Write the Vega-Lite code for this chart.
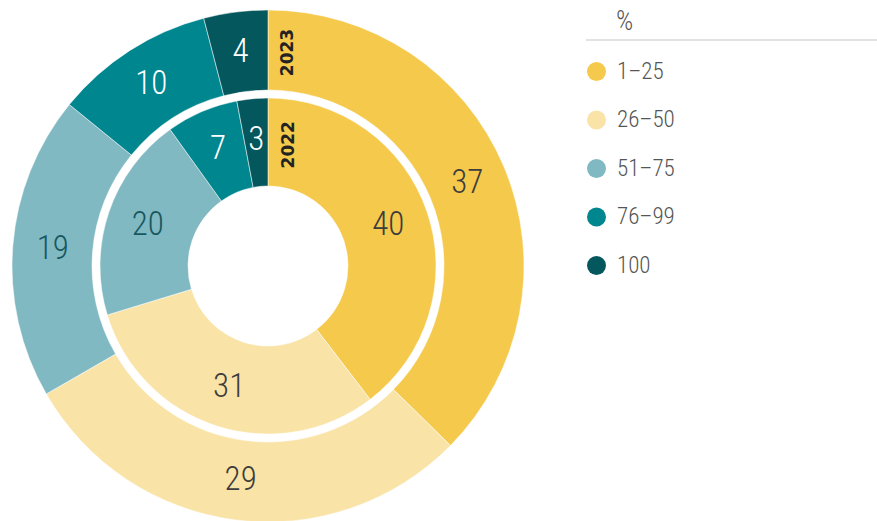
{
  "$schema": "https://vega.github.io/schema/vega-lite/v6.json",
  "width": 877,
  "height": 521,
  "autosize": {"type": "none"},
  "padding": 0,
  "background": "white",
  "config": {
    "view": {"stroke": null},
    "font": "Roboto Condensed, Liberation Sans Narrow, DejaVu Sans Condensed, sans-serif"
  },
  "data": {
    "values": [
      {"year": "2023", "cat": "1–25", "o": 1, "value": 37},
      {"year": "2023", "cat": "26–50", "o": 2, "value": 29},
      {"year": "2023", "cat": "51–75", "o": 3, "value": 19},
      {"year": "2023", "cat": "76–99", "o": 4, "value": 10},
      {"year": "2023", "cat": "100", "o": 5, "value": 4},
      {"year": "2022", "cat": "1–25", "o": 1, "value": 40},
      {"year": "2022", "cat": "26–50", "o": 2, "value": 31},
      {"year": "2022", "cat": "51–75", "o": 3, "value": 20},
      {"year": "2022", "cat": "76–99", "o": 4, "value": 7},
      {"year": "2022", "cat": "100", "o": 5, "value": 3}
    ]
  },
  "layer": [
    {
      "transform": [{"filter": "datum.year === '2023'"}],
      "mark": {"type": "arc", "x": 268, "y": 266, "radius": 256, "radius2": 176, "stroke": "white", "strokeWidth": 0.5},
      "encoding": {
        "theta": {"field": "value", "type": "quantitative", "stack": true},
        "order": {"field": "o", "type": "quantitative"},
        "color": {
          "field": "cat",
          "type": "nominal",
          "scale": {
            "domain": ["1–25", "26–50", "51–75", "76–99", "100"],
            "range": ["#F5C94C", "#F9E3A6", "#81B9C2", "#00868F", "#04575D"]
          },
          "legend": {
            "title": null,
            "orient": "none",
            "legendX": 585,
            "legendY": 60,
            "padding": 0,
            "labelFont": "Roboto Condensed, Liberation Sans Narrow, DejaVu Sans Condensed, sans-serif",
            "labelFontSize": 23,
            "labelFontWeight": 300,
            "labelColor": "#555555",
            "labelOffset": 9,
            "symbolType": "circle",
            "symbolSize": 360,
            "symbolStrokeWidth": 0,
            "symbolOpacity": 1,
            "rowPadding": 24.5
          }
        }
      }
    },
    {
      "transform": [{"filter": "datum.year === '2022'"}],
      "mark": {"type": "arc", "x": 268, "y": 266, "radius": 168, "radius2": 80, "stroke": "white", "strokeWidth": 0.5},
      "encoding": {
        "theta": {"field": "value", "type": "quantitative", "stack": true},
        "order": {"field": "o", "type": "quantitative"},
        "color": {"field": "cat", "type": "nominal"}
      }
    },
    {
      "transform": [{"filter": "datum.year === '2023'"}],
      "mark": {"type": "text", "x": 268, "y": 266, "radius": 216, "fontSize": 33, "fontWeight": 300, "align": "center", "baseline": "middle"},
      "encoding": {
        "theta": {"field": "value", "type": "quantitative", "stack": true},
        "order": {"field": "o", "type": "quantitative"},
        "text": {"field": "value", "type": "quantitative"},
        "color": {
          "condition": [
            {"test": "datum.cat === '76–99' || datum.cat === '100'", "value": "#ffffff"},
            {"test": "datum.cat === '51–75'", "value": "#17585f"}
          ],
          "value": "#3d3d3d"
        }
      }
    },
    {
      "transform": [{"filter": "datum.year === '2022'"}],
      "mark": {"type": "text", "x": 268, "y": 266, "radius": 127, "fontSize": 33, "fontWeight": 300, "align": "center", "baseline": "middle"},
      "encoding": {
        "theta": {"field": "value", "type": "quantitative", "stack": true},
        "order": {"field": "o", "type": "quantitative"},
        "text": {"field": "value", "type": "quantitative"},
        "color": {
          "condition": [
            {"test": "datum.cat === '76–99' || datum.cat === '100'", "value": "#ffffff"},
            {"test": "datum.cat === '51–75'", "value": "#17585f"}
          ],
          "value": "#3d3d3d"
        }
      }
    },
    {
      "transform": [{"filter": "datum.cat === '1–25'"}],
      "mark": {"type": "text", "x": 268, "y": 266, "angle": 270, "font": "DejaVu Sans", "fontWeight": "bold", "fontSize": 17, "align": "center", "baseline": "middle", "color": "#222222"},
      "encoding": {
        "text": {"field": "year", "type": "nominal"},
        "radius": {"field": "year", "type": "nominal", "scale": {"type": "ordinal", "domain": ["2022", "2023"], "range": [123, 214.5]}},
        "theta": {"field": "year", "type": "nominal", "scale": {"type": "ordinal", "domain": ["2022", "2023"], "range": [0.168, 0.0955]}}
      }
    },
    {
      "data": {"values": [{"t": "%"}]},
      "mark": {"type": "text", "align": "left", "baseline": "alphabetic", "fontSize": 27, "fontWeight": 300, "color": "#555555"},
      "encoding": {
        "text": {"field": "t", "type": "nominal"},
        "x": {"value": 616},
        "y": {"value": 30}
      }
    },
    {
      "data": {"values": [{}]},
      "mark": {"type": "rule", "color": "#d9d9d9", "strokeWidth": 1.5},
      "encoding": {
        "x": {"value": 586},
        "x2": {"value": 877},
        "y": {"value": 40}
      }
    }
  ],
  "resolve": {"scale": {"theta": "independent", "radius": "independent"}}
}
